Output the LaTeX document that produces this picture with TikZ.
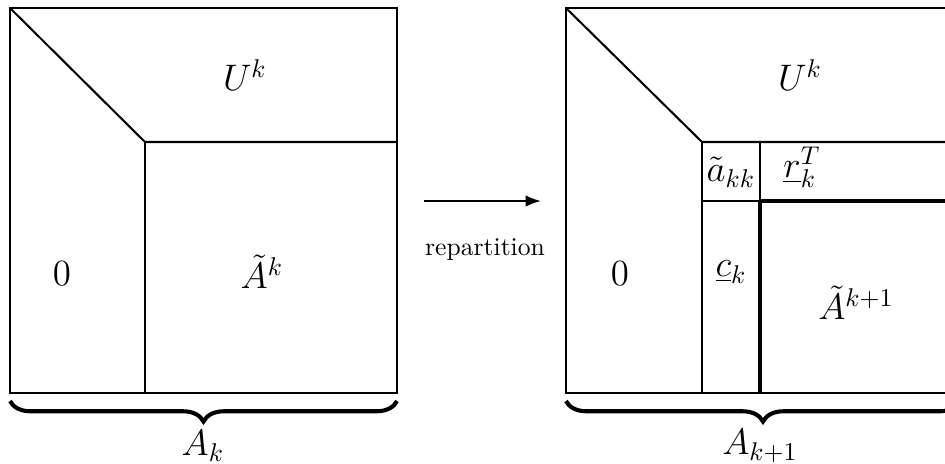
\documentclass[tikz,border=0pt]{standalone}
\usetikzlibrary{decorations.pathreplacing,arrows.meta}
\tikzset{
  blk/.style={line width=0.8pt},
  thk/.style={line width=1.6pt},
  lbl/.style={font=\Large},
  brc/.style={decorate,decoration={brace,mirror,amplitude=8pt},line width=1.6pt},
}
\begin{document}
\begin{tikzpicture}[x=0.39pt,y=-0.39pt,line join=miter]
\useasboundingbox (0,0) rectangle (945,463);
\clip (0,0) rectangle (945,463);
%% left matrix
\draw [blk] (10,8) rectangle (397,393);
\draw [blk] (10,8) -- (145,142) -- (397,142);
\draw [blk] (145,142) -- (145,393);
\node (uL) at (245,75) [lbl] {$U^k$};
\node (zL) at (62,274) [lbl] {$0$};
\node (aL) at (262,272) [lbl] {$\tilde{A}^k$};
\draw [brc] (10,401) -- (397,401);
\node (bL) at (203,446) [lbl] {$A_k$};
%% arrow
\coordinate (p) at (424,201);
\coordinate (q) at (541,201);
\draw [-{Latex[length=6pt,width=4.5pt]},line width=0.8pt] (p) -- (q);
\node (rep) at (485,250) {repartition};
%% right matrix
\draw [blk] (566,8) rectangle (960,393);
\draw [blk] (566,8) -- (702,142) -- (960,142);
\draw [blk] (702,142) -- (702,393);
\draw [blk] (702,201) -- (760,201);
\draw [blk] (760,142) -- (760,201);
\draw [thk] (760,201) -- (960,201);
\draw [line width=1.2pt] (760,201) -- (760,393);
\node (uR) at (800,75) [lbl] {$U^k$};
\node (zR) at (620,274) [lbl] {$0$};
\node (akk) at (731,172) [lbl] {$\tilde{a}_{kk}$};
\node (rk) at (802,167) [lbl] {$\underline{r}_k^T$};
\node (ck) at (731,272) [lbl] {$\underline{c}_k$};
\node (aR) at (856,303) [lbl] {$\tilde{A}^{k+1}$};
\draw [brc] (566,401) -- (960,401);
\node (bR) at (760,446) [lbl] {$A_{k+1}$};
%
\end{tikzpicture}
\end{document}
